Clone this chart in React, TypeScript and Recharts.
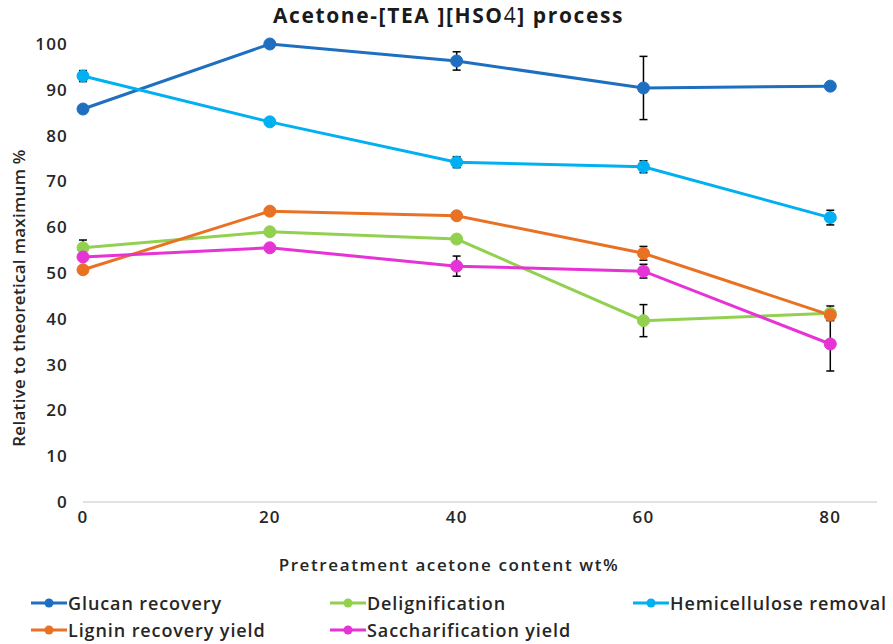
import { ErrorBar, Label, Line, LineChart, XAxis, YAxis } from "recharts";

const acetone = [0, 20, 40, 60, 80];
const glucan = [85.8, 100, 96.3, 90.4, 90.8];
const glucanErr = [0, 0, 2.0, 6.9, 0];
const delignification = [55.5, 59.0, 57.4, 39.6, 41.2];
const delignificationErr = [1.7, 0, 0, 3.5, 1.6];
const hemicellulose = [93.0, 83.0, 74.2, 73.2, 62.1];
const hemicelluloseErr = [1.2, 0, 1.2, 1.3, 1.6];
const lignin = [50.7, 63.5, 62.5, 54.3, 40.8];
const ligninErr = [0, 0, 0, 1.5, 0];
const saccharification = [53.5, 55.5, 51.5, 50.4, 34.5];
const saccharificationErr = [0, 0, 2.2, 1.5, 5.9];
const yTicks = [0, 10, 20, 30, 40, 50, 60, 70, 80, 90, 100];

const FONT = "'Open Sans', 'Noto Sans', sans-serif";
const TEXT = "#262626";

const series = [
  { key: "glucan", err: "glucanErr", name: "Glucan recovery", color: "#1f6fc0" },
  { key: "delig", err: "deligErr", name: "Delignification", color: "#92d050" },
  { key: "hemi", err: "hemiErr", name: "Hemicellulose removal", color: "#00b0f0" },
  { key: "lignin", err: "ligninErr", name: "Lignin recovery yield", color: "#e97124" },
  { key: "sacch", err: "sacchErr", name: "Saccharification yield", color: "#e633d6" },
];

const data = acetone.map((x, i) => ({
  x,
  glucan: glucan[i],
  glucanErr: glucanErr[i],
  delig: delignification[i],
  deligErr: delignificationErr[i],
  hemi: hemicellulose[i],
  hemiErr: hemicelluloseErr[i],
  lignin: lignin[i],
  ligninErr: ligninErr[i],
  sacch: saccharification[i],
  sacchErr: saccharificationErr[i],
}));

// legend positions like the excel layout (two rows, three columns)
const legendSlots = [
  { left: 31, top: 591 },
  { left: 330, top: 591 },
  { left: 633, top: 591 },
  { left: 31, top: 618 },
  { left: 330, top: 618 },
];

const tickStyle = { fontSize: 17, fontWeight: 600, fill: TEXT, fontFamily: FONT, letterSpacing: 1.2 };
const titleStyle = { fontSize: 17, fontWeight: 600, fill: TEXT, fontFamily: FONT, letterSpacing: 1.6 };

const LegendIcon = ({ color }: { color: string }) => (
  <svg width={36} height={12} style={{ display: "block" }}>
    <line x1={0} y1={6} x2={36} y2={6} stroke={color} strokeWidth={3} />
    <circle cx={18} cy={6} r={4.5} fill={color} />
  </svg>
);

const App = () => {
  return (
    <div style={{ position: "absolute", left: 0, top: 0, width: 893, height: 644, background: "#fff", fontFamily: FONT }}>
      <div
        style={{
          position: "absolute",
          top: 1,
          left: 0,
          width: 893,
          textAlign: "center",
          fontSize: 21,
          fontWeight: 700,
          letterSpacing: 1.6,
          color: "#1a1a1a",
          paddingLeft: 2,
        }}
      >
        Acetone-[TEA ][HSO<span style={{ fontWeight: 400 }}>4</span>] process
      </div>
      <LineChart
        width={893}
        height={585}
        data={data}
        margin={{ top: 44, right: 16, left: 0, bottom: 8 }}
        style={{ position: "absolute", left: 0, top: 0 }}
      >
        <XAxis
          dataKey="x"
          type="number"
          domain={[0, 85]}
          ticks={acetone}
          height={75}
          axisLine={{ stroke: "#d9d9d9", strokeWidth: 1.5 }}
          tickLine={false}
          tickMargin={3}
          tick={tickStyle}
        >
          <Label
            value="Pretreatment acetone content wt%"
            position="insideBottom"
            offset={6}
            dx={-31}
            style={titleStyle}
          />
        </XAxis>
        <YAxis
          type="number"
          domain={[0, 100]}
          ticks={yTicks}
          width={83}
          axisLine={false}
          tickLine={false}
          tickMargin={9}
          tick={tickStyle}
        >
          <Label
            value="Relative to theoretical maximum %"
            angle={-90}
            position="insideLeft"
            dx={14}
            dy={25}
            style={{ ...titleStyle, letterSpacing: 0.3, textAnchor: "middle" }}
          />
        </YAxis>
        {series.map((s) => (
          <Line
            key={s.key}
            dataKey={s.key}
            name={s.name}
            stroke={s.color}
            strokeWidth={3}
            dot={{ r: 6, fill: s.color, stroke: s.color, strokeWidth: 1 }}
            activeDot={false}
            isAnimationActive={false}
          >
            <ErrorBar dataKey={s.err} width={4} stroke="#000" strokeWidth={1.5} direction="y" />
          </Line>
        ))}
      </LineChart>
      {series.map((s, i) => (
        <div
          key={s.key}
          style={{
            position: "absolute",
            left: legendSlots[i].left,
            top: legendSlots[i].top,
            display: "flex",
            alignItems: "center",
            fontSize: 18,
            fontWeight: 600,
            letterSpacing: 0.9,
            color: TEXT,
            whiteSpace: "nowrap",
          }}
        >
          <LegendIcon color={s.color} />
          <span style={{ marginLeft: 1 }}>{s.name}</span>
        </div>
      ))}
    </div>
  );
};

export default App;
